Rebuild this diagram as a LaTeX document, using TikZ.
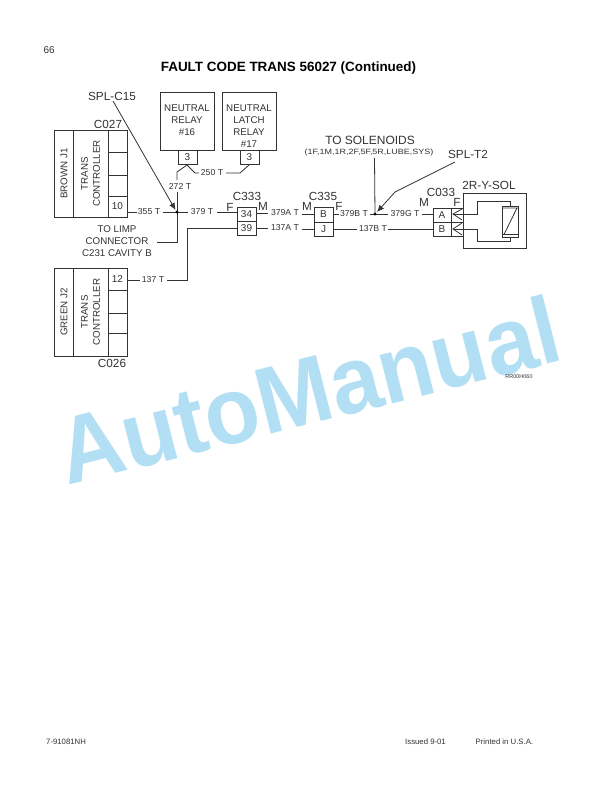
\documentclass[tikz,border=0pt]{standalone}
\usepackage{fontspec}
\setmainfont{Liberation Sans}
\usetikzlibrary{arrows.meta}
\definecolor{wm}{HTML}{B3DFF4}
\definecolor{ink}{HTML}{333333}
\tikzset{
  wire/.style={draw=ink,line width=0.8bp},
  boxline/.style={draw=ink,line width=0.9bp},
  lab/.style={font=\fontsize{8.7}{10}\selectfont,text=ink,inner sep=0pt},
  ilab/.style={font=\fontsize{9.8}{12}\selectfont,text=ink,inner sep=0pt,align=center},
  conn/.style={font=\fontsize{11.8}{13}\selectfont,text=ink,inner sep=0pt},
  pin/.style={font=\fontsize{10}{11}\selectfont,text=ink,inner sep=0pt},
  pg/.style={font=\fontsize{7.8}{9}\selectfont,text=ink,inner sep=0pt},
  leader/.style={draw=ink,line width=0.8bp,-{Latex[length=7bp,width=6bp]}},
  dotj/.style={circle,fill=black,inner sep=0pt,minimum size=3.4bp},
}
\begin{document}
\begin{tikzpicture}[x=1bp,y=-1bp]
\useasboundingbox (0,0) rectangle (612,792);
\fill[white] (0,0) rectangle (612,792);
% watermark
\node[rotate=14.2,font=\bfseries\fontsize{95}{105}\selectfont,text=wm,inner sep=0pt,anchor=base west] (wmk) at (67,486) {\scalebox{0.95}[1]{AutoManual}};
% page text
\node[font=\fontsize{10}{11}\selectfont,text=ink,inner sep=0pt,anchor=base west] (pgno) at (43.5,53.5) {66};
\node[font=\bfseries\fontsize{13.5}{15}\selectfont,inner sep=0pt] (title) at (288.5,68) {FAULT CODE TRANS 56027 (Continued)};
\node[pg,anchor=base west] (f1) at (46,744.5) {7-91081NH};
\node[pg,anchor=base west] (f2) at (405,744.5) {Issued 9-01};
\node[pg,anchor=base west] (f3) at (475.5,744.5) {Printed in U.S.A.};
\node[font=\fontsize{5.5}{6}\selectfont,text=ink,inner sep=0pt] (rr) at (519,377) {RR00H060};
% C027
\draw[boxline] (54,130) rectangle (127,217);
\draw[boxline] (73,130)--(73,217) (108,130)--(108,217) (108,152)--(127,152) (108,175)--(127,175) (108,196)--(127,196);
\node[ilab,rotate=90] (brown) at (64,173.5) {BROWN J1};
\node[ilab,rotate=90] (tc1) at (90.5,173.5) {TRANS\\CONTROLLER};
\node[pin] (p10) at (117.5,206.5) {10};
\node[conn] (c027) at (108,124) {C027};
% C026
\draw[boxline] (54,268) rectangle (127,356);
\draw[boxline] (73,268)--(73,356) (108,268)--(108,356) (108,290)--(127,290) (108,313)--(127,313) (108,333)--(127,333);
\node[ilab,rotate=90] (green) at (64,312) {GREEN J2};
\node[ilab,rotate=90] (tc2) at (90.5,312) {TRANS\\CONTROLLER};
\node[pin] (p12) at (117.5,279.5) {12};
\node[conn] (c026) at (112,363) {C026};
% relays
\draw[boxline] (160,92) rectangle (214,150);
\node[ilab,anchor=north] (nr) at (187,105) {NEUTRAL\\RELAY\\\#16};
\draw[boxline] (178,150) rectangle (197,164);
\node[pin] (r3a) at (187.5,157) {3};
\draw[boxline] (222,92) rectangle (276,150);
\node[ilab,anchor=north] (nl) at (249,105) {NEUTRAL\\LATCH\\RELAY\\\#17};
\draw[boxline] (240,150) rectangle (259,164);
\node[pin] (r3b) at (249.5,157) {3};
% junctions and wires top-left
\coordinate (jc) at (177,212);
\coordinate (jt) at (375,214);
\draw[wire] (127,212)--(137,212);
\node[lab] (w355) at (149,212) {355 T};
\draw[wire] (163,212)--(188,212);
\node[lab] (w379) at (202,212) {379 T};
\draw[wire] (217,212)--(237,212);
\draw[wire] (177,180)--(177,172)--(187,165)--(195,173)--(199,173);
\node[lab] (w250) at (212,173) {250 T};
\draw[wire] (226,173)--(240,173)--(249,165);
\node[lab] (w272) at (180,186) {272 T};
\draw[wire] (177,192)--(177,242)--(157,242);
\node[dotj] (dc) at (jc) {};
\node[ilab,anchor=north] (limp) at (117,225.5) {TO LIMP\\CONNECTOR\\C231 CAVITY B};
\node[conn] (splc) at (112,96) {SPL-C15};
\draw[leader] (113,101)--(175.5,210);
% 137
\draw[wire] (127,280)--(140,280);
\node[lab] (w137) at (153,280) {137 T};
\draw[wire] (167,280)--(187,280)--(187,228)--(237,228);
% C333
\draw[boxline] (237,207) rectangle (256,235);
\draw[boxline] (237,221)--(256,221);
\node[pin] (p34) at (246.5,214.5) {34};
\node[pin] (p39) at (246.5,228) {39};
\node[conn] (c333) at (247,196) {C333};
\node[conn] (c333f) at (230,207) {F};
\node[conn] (c333m) at (263,206) {M};
\draw[wire] (256,213)--(268,213);
\node[lab] (w379a) at (285,213) {379A T};
\draw[wire] (302,214)--(314,214);
\draw[wire] (256,228)--(268,228);
\node[lab] (w137a) at (285,228) {137A T};
\draw[wire] (302,229)--(314,229);
% C335
\draw[boxline] (314,207) rectangle (333,236);
\draw[boxline] (314,222)--(333,222);
\node[pin] (pb) at (323.5,214.5) {B};
\node[pin] (pj) at (323.5,229.5) {J};
\node[conn] (c335) at (323,196) {C335};
\node[conn] (c335m) at (307,206) {M};
\node[conn] (c335f) at (339,206) {F};
\draw[wire] (333,214)--(339,214);
\node[lab] (w379b) at (354,214) {379B T};
\draw[wire] (370,214)--(388,214);
\node[lab] (w379g) at (405,214) {379G T};
\draw[wire] (422,214)--(433,214);
\node[dotj] (dt) at (jt) {};
\draw[wire] (333,229)--(357,229);
\node[lab] (w137b) at (373,229) {137B T};
\draw[wire] (388,229)--(433,229);
\node[font=\fontsize{12}{13}\selectfont,text=ink,inner sep=0pt] (tosol) at (370,140) {TO SOLENOIDS};
\node[font=\fontsize{9}{10}\selectfont,text=ink,inner sep=0pt] (solist) at (369,153) {\scalebox{1}[0.85]{(1F,1M,1R,2F,5F,5R,LUBE,SYS)}};
\draw[wire] (374.5,158)--(jt);
\node[conn] (splt) at (468,154) {SPL-T2};
\draw[leader] (455,162)--(395,192)--(377,212);
% C033
\draw[boxline] (433,208) rectangle (463,236);
\draw[boxline] (433,222)--(463,222) (451,208)--(451,236);
\node[pin] (pa) at (442,215) {A};
\node[pin] (pbb) at (442,229) {B};
\node[conn] (c033) at (441,192) {C033};
\node[conn] (c033m) at (424,202) {M};
\node[conn] (c033f) at (457,202) {F};
\node[conn] (sol) at (489,185) {2R-Y-SOL};
\draw[boxline] (463,193) rectangle (526,248);
\draw[wire] (462,209)--(453,214)--(462,220);
\draw[wire] (462,223)--(453,229)--(462,235);
\draw[wire] (453,214)--(477,214)--(477,201)--(510,201)--(510,206);
\draw[wire] (453,229)--(477,229)--(477,241)--(510,241)--(510,237);
\draw[boxline] (502,206) rectangle (518,237);
\draw[wire] (502,208)--(518,208) (502,234.5)--(518,234.5) (504,234.5)--(517,208);
\end{tikzpicture}
\end{document}
